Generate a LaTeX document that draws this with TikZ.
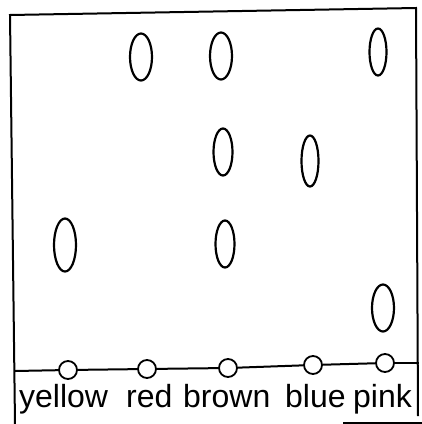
\documentclass[tikz,border=0pt]{standalone}
\usepackage{fontspec}
\setmainfont{Liberation Sans}
\usetikzlibrary{shapes.geometric}
\begin{document}
\begin{tikzpicture}[x=1pt,y=-1pt,
  spot/.style={draw,ellipse,line width=2.2pt,inner sep=0pt,minimum width=#1},
  spot/.default=22pt,
  well/.style={draw,circle,line width=1.8pt,fill=white,inner sep=0pt,minimum size=18pt},
  rim/.style={line width=2pt},
  lab/.style={anchor=base west,inner sep=0pt,font=\fontsize{32}{38}\selectfont}]
\useasboundingbox (0,0) rectangle (422,424);
% frame
\draw[rim] (15,424) -- (10,15) -- (416,8) -- (418,416);
\draw[line width=1.2pt] (343,423) -- (422,423);
% baseline points
\coordinate (L) at (15,371);
\coordinate (R) at (419,363);
\node[well] (cy) at (68,370) {};
\node[well] (cr) at (147,369) {};
\node[well] (cb) at (228,368) {};
\node[well] (cu) at (313,365) {};
\node[well] (cp) at (385,363) {};
\draw[rim] (L) -- (cy);
\draw[rim] (cy) -- (cr);
\draw[rim] (cr) -- (cb);
\draw[rim] (cb) -- (cu);
\draw[rim] (cu) -- (cp);
\draw[rim] (cp) -- (R);
% labels
\node[lab] (ty) at (19,407) {yellow};
\node[lab] (tr) at (126,407) {red};
\node[lab] (tb) at (183,407) {brown};
\node[lab] (tu) at (285,407) {blue};
\node[lab] (tp) at (353,407) {pink};
% spots
\node[spot=22pt,minimum height=47pt] (r1) at (141,57) {};
\node[spot=22pt,minimum height=47pt] (b1) at (221,56) {};
\node[spot=17pt,minimum height=47pt] (p1) at (378,52) {};
\node[spot=19pt,minimum height=47pt] (b2) at (223,152) {};
\node[spot=17pt,minimum height=51pt] (u1) at (310,161) {};
\node[spot=22pt,minimum height=53pt] (y1) at (65,245) {};
\node[spot=19pt,minimum height=47pt] (b3) at (225,244) {};
\node[spot=22pt,minimum height=47pt] (p2) at (383,308) {};
\end{tikzpicture}
\end{document}
